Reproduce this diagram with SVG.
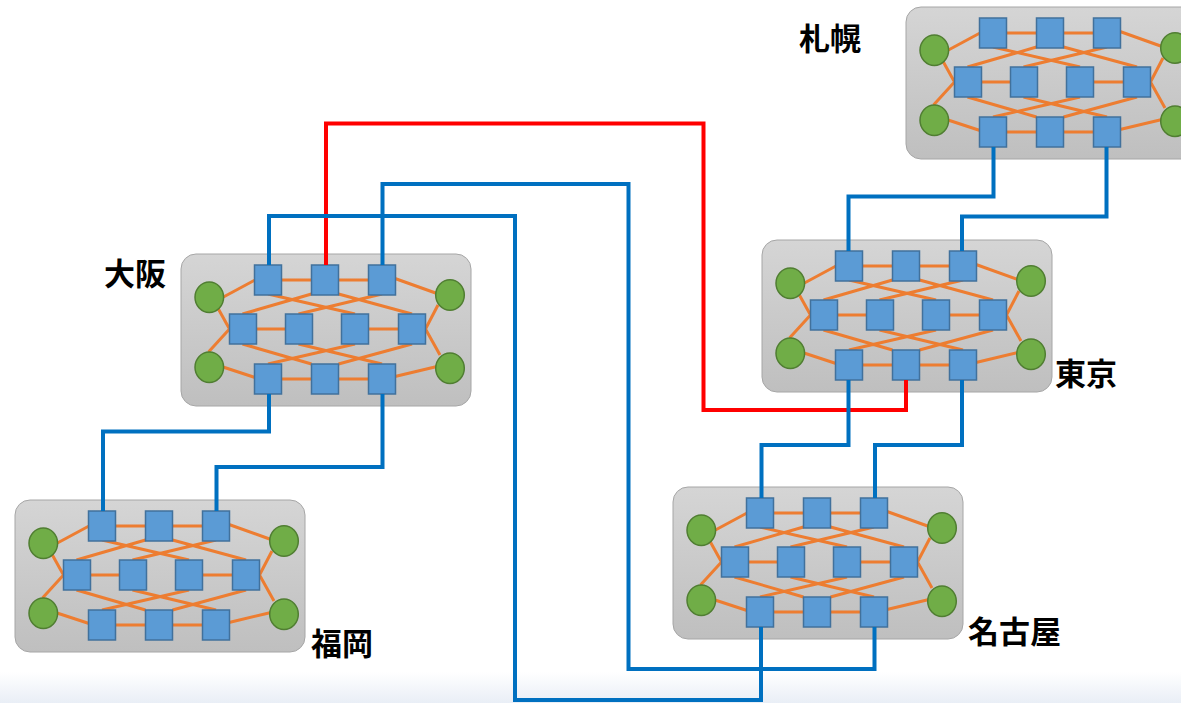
<svg xmlns="http://www.w3.org/2000/svg" xmlns:xlink="http://www.w3.org/1999/xlink" width="1181" height="703" viewBox="0 0 1181 703">
  <style>
    .box { fill: url(#boxFill); stroke: #a6a6a6; stroke-width: 1; }
    .mesh { fill: none; stroke: #ed7d31; stroke-width: 3; }
    .sw { fill: #5b9bd5; stroke: #41719c; stroke-width: 1.5; }
    .host { fill: #70ad47; stroke: #507e32; stroke-width: 1.5; }
    .link { fill: none; stroke: #0070c0; stroke-width: 4; }
    .link.red { stroke: #ff0000; }
    .label { font-family: "Noto Sans CJK JP", "Noto Sans CJK SC", sans-serif; font-weight: bold; font-size: 31px; fill: #000; }
  </style>
  <defs>
    <linearGradient id="boxFill" x1="0" y1="0" x2="0" y2="1">
      <stop offset="0" stop-color="#d5d5d5"/>
      <stop offset="1" stop-color="#bfbfbf"/>
    </linearGradient>
    <linearGradient id="floor" x1="0" y1="0" x2="0" y2="1">
      <stop offset="0" stop-color="#ffffff"/>
      <stop offset="1" stop-color="#e9eef6"/>
    </linearGradient>
    <!-- one site: switch fabric with four hosts, origin at the box's top-left corner -->
    <g id="site">
      <rect class="box" x="0" y="0" width="290" height="152" rx="15"/>
      <path class="mesh" d="M87,26 H201 M62,75 H118 M174,75 H231 M87,125 H201
        M61.5,60 L130.5,40 M87,40 L174,60 M117.5,60 L201,40 M157.5,40 L231,60
        M61.5,90 L130.5,110 M87,110 L174,90 M117.5,90 L201,110 M157.5,110 L231,90
        M41.5,43.5 L74,26 M36,52.5 L48.5,75 M27.5,98 L48.5,75 M42,113 L74,123.5
        M214,24.5 L256,39.5 M257,51 L244.5,75 M259,101 L244.5,75 M214,122.5 L256,112.5"/>
      <rect class="sw" x="73.5" y="11" width="27" height="30"/>
      <rect class="sw" x="130.5" y="11" width="27" height="30"/>
      <rect class="sw" x="187.5" y="11" width="27" height="30"/>
      <rect class="sw" x="48.5" y="60" width="27" height="30"/>
      <rect class="sw" x="104.5" y="60" width="27" height="30"/>
      <rect class="sw" x="160.5" y="60" width="27" height="30"/>
      <rect class="sw" x="217.5" y="60" width="27" height="30"/>
      <rect class="sw" x="73.5" y="110" width="27" height="30"/>
      <rect class="sw" x="130.5" y="110" width="27" height="30"/>
      <rect class="sw" x="187.5" y="110" width="27" height="30"/>
      <ellipse class="host" cx="28.3" cy="43.3" rx="14.3" ry="15.2"/>
      <ellipse class="host" cx="28.3" cy="113.3" rx="14.3" ry="15.2"/>
      <ellipse class="host" cx="269" cy="41" rx="14.3" ry="15.2"/>
      <ellipse class="host" cx="269" cy="114.3" rx="14.3" ry="15.2"/>
    </g>
  </defs>

  <rect x="0" y="0" width="1181" height="703" fill="#ffffff"/>
  <rect x="0" y="672" width="1181" height="31" fill="url(#floor)"/>

  <g id="sapporo">
    <use href="#site" xlink:href="#site" x="906" y="7"/>
    <text class="label" x="799" y="50">札幌</text>
  </g>
  <g id="osaka">
    <use href="#site" xlink:href="#site" x="181" y="254"/>
    <text class="label" x="104" y="285">大阪</text>
  </g>
  <g id="tokyo">
    <use href="#site" xlink:href="#site" x="762" y="240"/>
    <text class="label" x="1055" y="385">東京</text>
  </g>
  <g id="fukuoka">
    <use href="#site" xlink:href="#site" x="15" y="500"/>
    <text class="label" x="311" y="655">福岡</text>
  </g>
  <g id="nagoya">
    <use href="#site" xlink:href="#site" x="673" y="487"/>
    <text class="label" x="968" y="643">名古屋</text>
  </g>

  <g id="links">
    <path class="link red" d="M326,265 V123.5 H703.5 V410 H906 V380"/>
    <path class="link" d="M993.5,147 V196.5 H848.5 V251"/>
    <path class="link" d="M1106.5,147 V216.5 H962 V251"/>
    <path class="link" d="M269,265 V216 H515 V700 H761 V627"/>
    <path class="link" d="M382.5,265 V184 H628.5 V669 H874.5 V627"/>
    <path class="link" d="M848.5,380 V445 H761.5 V498"/>
    <path class="link" d="M962,380 V445 H875 V498"/>
    <path class="link" d="M269,394 V431.5 H103 V511"/>
    <path class="link" d="M382.5,394 V467 H216.5 V511"/>
  </g>
</svg>
